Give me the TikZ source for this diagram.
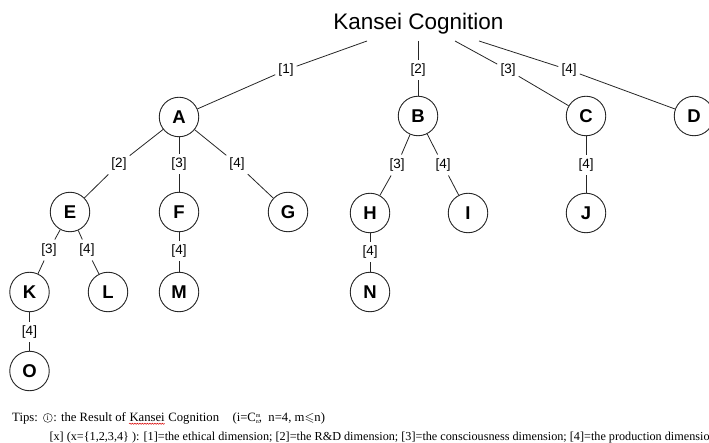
\documentclass[tikz,border=0pt]{standalone}
\usepackage{fontspec}
\usepackage{amssymb}
\setmainfont{Liberation Serif}
\newfontfamily\arialf{Liberation Sans}
\usetikzlibrary{decorations.pathmorphing,calc}
\tikzset{
  circnode/.style={circle, draw=black!85, line width=0.9pt, minimum size=39.5pt, inner sep=0pt,
    font=\arialf\bfseries\fontsize{18.5}{20}\selectfont},
  lbl/.style={inner xsep=3pt, inner ysep=4pt, font=\arialf\fontsize{13.5}{15}\selectfont},
  conn/.style={line width=0.8pt, draw=black!85},
  tiptext/.style={inner sep=0pt, anchor=base west, font=\fontsize{12.7}{14}\selectfont},
  tipline/.style={inner sep=0pt, anchor=base west, font=\fontsize{12.2}{14}\selectfont}
}
\begin{document}
\begin{tikzpicture}[x=1pt,y=-1pt]
\useasboundingbox (0,0) rectangle (709,443);
% title
\node[font=\arialf\fontsize{22.5}{26}\selectfont, anchor=base, inner sep=0pt] (title) at (418.5,29.5) {Kansei Cognition};
\coordinate (s1) at (367,41);
\coordinate (s2) at (418,41);
\coordinate (s3) at (455,41);
\coordinate (s4) at (479,41);
% nodes
\node[circnode] (A) at (179,117) {A};
\node[circnode] (B) at (418,116) {B};
\node[circnode] (C) at (586,116) {C};
\node[circnode] (D) at (694,116) {D};
\node[circnode] (E) at (70,212) {E};
\node[circnode] (F) at (179,212) {F};
\node[circnode] (G) at (288,212) {G};
\node[circnode] (H) at (370,213) {H};
\node[circnode] (I) at (468,213) {I};
\node[circnode] (J) at (586,213) {J};
\node[circnode] (K) at (29.5,292) {K};
\node[circnode] (L) at (108,292) {L};
\node[circnode] (M) at (179,292) {M};
\node[circnode] (N) at (370,292) {N};
\node[circnode] (O) at (29.5,371) {O};
% labels
\node[lbl] (l1) at (286,70) {[1]};
\node[lbl] (l2) at (418,70) {[2]};
\node[lbl] (l3) at (508,70) {[3]};
\node[lbl] (l4) at (569,70) {[4]};
\node[lbl] (lAE) at (119,164) {[2]};
\node[lbl] (lAF) at (179,164) {[3]};
\node[lbl] (lAG) at (237,164) {[4]};
\node[lbl] (lBH) at (397,165) {[3]};
\node[lbl] (lBI) at (443,165) {[4]};
\node[lbl] (lCJ) at (586,165) {[4]};
\node[lbl] (lEK) at (49,250) {[3]};
\node[lbl] (lEL) at (87,250) {[4]};
\node[lbl] (lFM) at (179,251) {[4]};
\node[lbl] (lHN) at (370,252) {[4]};
\node[lbl] (lKO) at (29.5,332) {[4]};
% connectors
\draw[conn] (s1) -- (l1) -- (A);
\draw[conn] (s2) -- (l2) -- (B);
\draw[conn] (s3) -- (l3) -- (C);
\draw[conn] (s4) -- (l4) -- (D);
\draw[conn] (A) -- (lAE) -- (E);
\draw[conn] (A) -- (lAF) -- (F);
\draw[conn] (A) -- (lAG) -- (G);
\draw[conn] (B) -- (lBH) -- (H);
\draw[conn] (B) -- (lBI) -- (I);
\draw[conn] (C) -- (lCJ) -- (J);
\draw[conn] (E) -- (lEK) -- (K);
\draw[conn] (E) -- (lEL) -- (L);
\draw[conn] (F) -- (lFM) -- (M);
\draw[conn] (H) -- (lHN) -- (N);
\draw[conn] (K) -- (lKO) -- (O);
% tips
\node[tiptext] (tips) at (12,421.5) {Tips:};
\node[circle, draw=black!80, line width=0.5pt, inner sep=0pt, minimum size=9pt,
      font=\fontsize{8}{8}\selectfont, anchor=west] (ti) at ($(tips.base east)+(5,-3.6)$) {i};
\node[tiptext] (ta) at ($(ti.east |- tips.base)+(0.5,0)$) {: the Result of};
\node[tiptext] (kan) at (ta.base east) {\ Kansei};
\node[tiptext] (tb) at (kan.base east) {\ Cognition};
\node[tiptext] (tc) at ($(tb.base east)+(13,0)$) {(i=C\rlap{\raisebox{0.75ex}{\fontsize{6}{6}\selectfont m}}\raisebox{-0.35ex}{\fontsize{6}{6}\selectfont n},\ \ n=4, m$\leqslant$n)};
\draw[red!85!black, line width=0.5pt, decorate, decoration={snake, amplitude=0.6pt, segment length=2.5pt}]
  ([xshift=3pt,yshift=-2.2pt]kan.base west) -- ([yshift=-2.2pt]kan.base east);
\node[tipline] (line2) at (49.3,440) {[x] (x=\{1,2,3,4\} ): [1]=the ethical dimension; [2]=the R\&D dimension; [3]=the consciousness dimension; [4]=the production dimension};
\end{tikzpicture}
\end{document}
